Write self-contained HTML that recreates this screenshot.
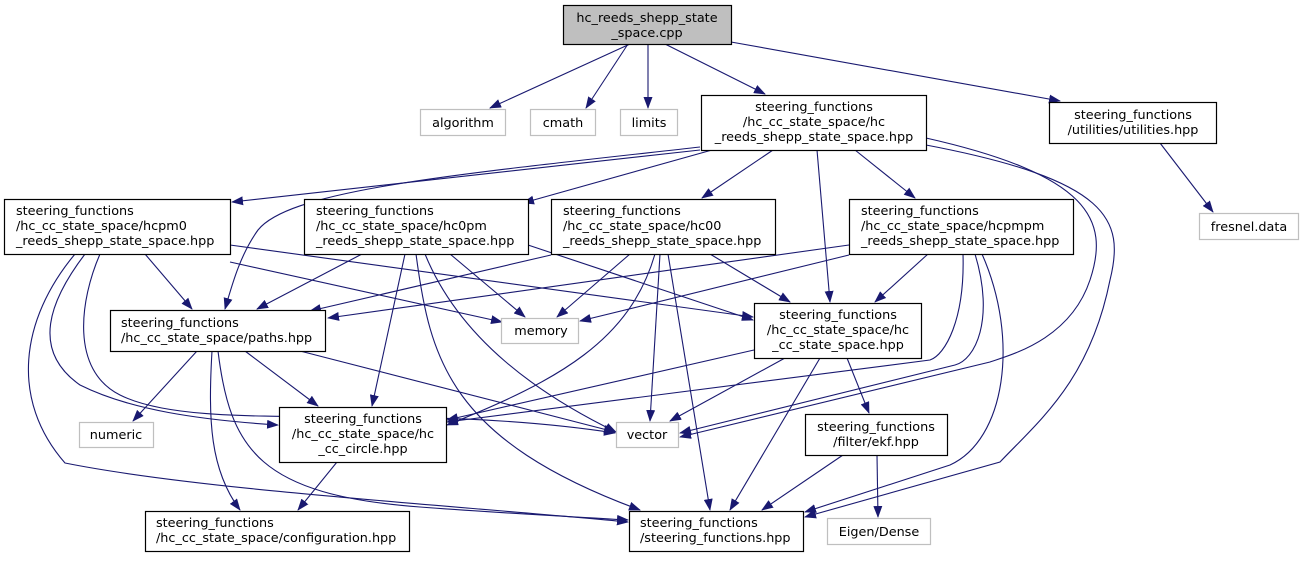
<!DOCTYPE html>
<html><head><meta charset="utf-8"><style>
html,body{margin:0;padding:0;background:#fff;}
svg text{font-family:"DejaVu Sans","Liberation Sans",sans-serif;font-size:12.8px;fill:#000;}
</style></head><body>
<svg width="1306" height="557" viewBox="0 0 1306 557" xmlns="http://www.w3.org/2000/svg">
<defs>
<marker id="a" markerWidth="12" markerHeight="9" refX="11" refY="4.5" orient="auto" markerUnits="userSpaceOnUse">
<path d="M0,0 L12,4.5 L0,9 z" fill="#191970"/>
</marker>
</defs>
<g fill="none" stroke="#191970" stroke-width="1.1" marker-end="url(#a)">
<path d="M630,44 L490,108"/>
<path d="M628,44 L586,108"/>
<path d="M648,44 L648,108"/>
<path d="M665,44 L765,94"/>
<path d="M731,42 L1060,101"/>
<path d="M1160,143 L1213,212"/>
<path d="M700,150 L232,202"/>
<path d="M700,147 C450,175 290,190 258,230 C240,255 232,285 225,309"/>
<path d="M712,150 L523,203"/>
<path d="M773,150 L702,198"/>
<path d="M855,150 L915,198"/>
<path d="M817,150 L830,302"/>
<path d="M926,138 C1090,175 1110,220 1090,280 C1070,340 1010,355 990,362 L680,437"/>
<path d="M926,145 C1110,180 1125,220 1110,280 C1090,380 1040,420 1000,462 L805,517"/>
<path d="M145,254 L192,309"/>
<path d="M230,262 L502,322"/>
<path d="M230,245 L753,317"/>
<path d="M85,254 C50,300 30,350 80,385 C130,410 200,420 278,425"/>
<path d="M100,254 C80,300 70,370 120,395 C200,435 400,400 615,433"/>
<path d="M75,254 C20,320 10,400 65,463 C200,490 450,505 628,522"/>
<path d="M197,351 L133,421"/>
<path d="M245,351 L318,406"/>
<path d="M300,351 L615,432"/>
<path d="M212,351 C208,420 210,470 240,510"/>
<path d="M218,351 C230,450 260,495 420,507 C500,513 560,516 628,520"/>
<path d="M337,462 L298,510"/>
<path d="M362,254 L257,309"/>
<path d="M405,254 L372,406"/>
<path d="M450,254 L525,317"/>
<path d="M425,254 C460,340 540,395 616,432"/>
<path d="M416,254 C430,360 450,440 640,510"/>
<path d="M528,245 L753,320"/>
<path d="M551,255 L310,311"/>
<path d="M630,254 L557,317"/>
<path d="M710,254 L790,302"/>
<path d="M660,254 L650,421"/>
<path d="M668,254 L710,510"/>
<path d="M655,254 C630,340 560,380 447,425"/>
<path d="M849,245 L328,318"/>
<path d="M849,255 L580,321"/>
<path d="M928,254 L875,302"/>
<path d="M963,254 C965,320 945,355 930,360 L447,422"/>
<path d="M975,254 C995,320 975,360 955,365 L680,433"/>
<path d="M982,254 C1020,340 1005,440 950,465 L805,512"/>
<path d="M754,350 L447,420"/>
<path d="M785,358 L670,421"/>
<path d="M820,358 L730,510"/>
<path d="M847,358 L869,413"/>
<path d="M843,455 L762,510"/>
<path d="M877,455 L878,517"/>
</g>
<g stroke-width="1.2">
<rect x="563.5" y="5.5" width="168" height="39" fill="#bfbfbf" stroke="#000"/>
<rect x="420.5" y="109.5" width="85" height="26" fill="#fff" stroke="#bfbfbf"/>
<rect x="530.5" y="109.5" width="65" height="26" fill="#fff" stroke="#bfbfbf"/>
<rect x="620.5" y="109.5" width="57" height="26" fill="#fff" stroke="#bfbfbf"/>
<rect x="701.5" y="95.5" width="225" height="55" fill="#fff" stroke="#000"/>
<rect x="1049.5" y="102.5" width="167" height="41" fill="#fff" stroke="#000"/>
<rect x="1199.5" y="213.5" width="99" height="26" fill="#fff" stroke="#bfbfbf"/>
<rect x="4.5" y="199.5" width="226" height="55" fill="#fff" stroke="#000"/>
<rect x="304.5" y="199.5" width="224" height="55" fill="#fff" stroke="#000"/>
<rect x="551.5" y="199.5" width="224" height="55" fill="#fff" stroke="#000"/>
<rect x="849.5" y="199.5" width="224" height="55" fill="#fff" stroke="#000"/>
<rect x="754.5" y="303.5" width="167" height="55" fill="#fff" stroke="#000"/>
<rect x="501.5" y="318.5" width="77" height="25" fill="#fff" stroke="#bfbfbf"/>
<rect x="110.5" y="310.5" width="215" height="41" fill="#fff" stroke="#000"/>
<rect x="79.5" y="422.5" width="74" height="25" fill="#fff" stroke="#bfbfbf"/>
<rect x="279.5" y="407.5" width="167" height="55" fill="#fff" stroke="#000"/>
<rect x="616.5" y="422.5" width="62" height="25" fill="#fff" stroke="#bfbfbf"/>
<rect x="805.5" y="414.5" width="142" height="41" fill="#fff" stroke="#000"/>
<rect x="145.5" y="511.5" width="264" height="40" fill="#fff" stroke="#000"/>
<rect x="629.5" y="511.5" width="174" height="40" fill="#fff" stroke="#000"/>
<rect x="827.5" y="518.5" width="103" height="26" fill="#fff" stroke="#bfbfbf"/>
</g>
<g text-anchor="middle">
<text x="647" y="22">hc_reeds_shepp_state</text><text x="647" y="37">_space.cpp</text>
<text x="463" y="127">algorithm</text>
<text x="563" y="127">cmath</text>
<text x="649" y="127">limits</text>
<text x="814" y="111">steering_functions</text><text x="814" y="126">/hc_cc_state_space/hc</text><text x="814" y="141">_reeds_shepp_state_space.hpp</text>
<text x="1133" y="119">steering_functions</text><text x="1133" y="134">/utilities/utilities.hpp</text>
<text x="1249" y="231">fresnel.data</text>
<text x="541" y="335">memory</text>
<text x="116" y="439">numeric</text>
<text x="647" y="439">vector</text>
<text x="879" y="536">Eigen/Dense</text>
<text x="876" y="431">steering_functions</text><text x="876" y="446">/filter/ekf.hpp</text>
<text x="838" y="319">steering_functions</text><text x="838" y="334">/hc_cc_state_space/hc</text><text x="838" y="349">_cc_state_space.hpp</text>
<text x="363" y="423">steering_functions</text><text x="363" y="438">/hc_cc_state_space/hc</text><text x="363" y="453">_cc_circle.hpp</text>
</g>
<g>
<text x="16" y="215">steering_functions</text><text x="16" y="230">/hc_cc_state_space/hcpm0</text><text x="16" y="245">_reeds_shepp_state_space.hpp</text>
<text x="316" y="215">steering_functions</text><text x="316" y="230">/hc_cc_state_space/hc0pm</text><text x="316" y="245">_reeds_shepp_state_space.hpp</text>
<text x="563" y="215">steering_functions</text><text x="563" y="230">/hc_cc_state_space/hc00</text><text x="563" y="245">_reeds_shepp_state_space.hpp</text>
<text x="861" y="215">steering_functions</text><text x="861" y="230">/hc_cc_state_space/hcpmpm</text><text x="861" y="245">_reeds_shepp_state_space.hpp</text>
<text x="121" y="327">steering_functions</text><text x="121" y="342">/hc_cc_state_space/paths.hpp</text>
<text x="156" y="527">steering_functions</text><text x="156" y="542">/hc_cc_state_space/configuration.hpp</text>
<text x="640" y="527">steering_functions</text><text x="640" y="542">/steering_functions.hpp</text>
</g>
</svg>
</body></html>
